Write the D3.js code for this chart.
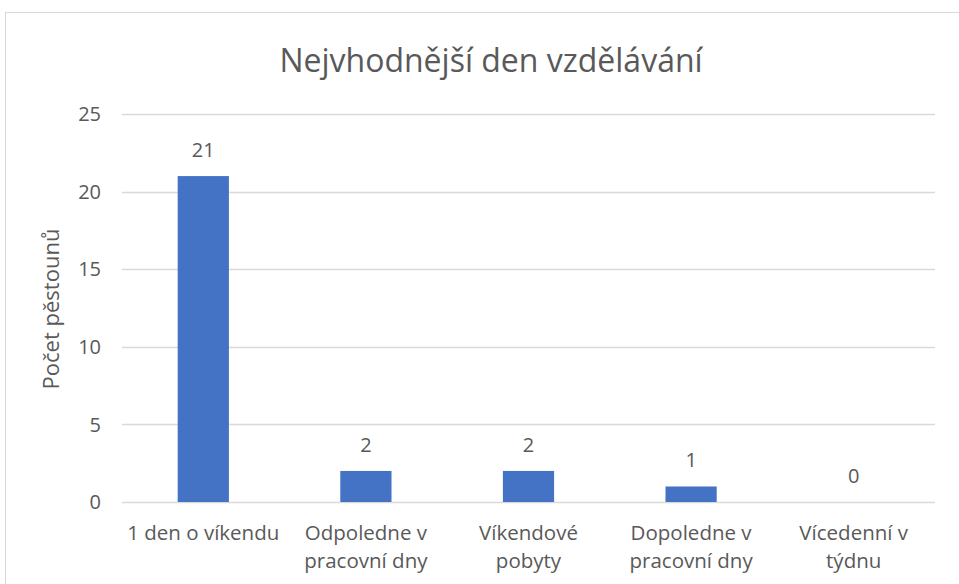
<!DOCTYPE html>
<html>
<head>
<meta charset="utf-8">
<script src="https://cdn.jsdelivr.net/npm/d3@7"></script>
<style>
  body { margin: 0; background: #fff; }
  text { font-family: "Open Sans", sans-serif; fill: #595959; }
</style>
</head>
<body>
<div id="chart"></div>
<script>
const title = "Nejvhodnější den vzdělávání";
const yTitle = "Počet pěstounů";
const categories = [
  "1 den o víkendu",
  "Odpoledne v\npracovní dny",
  "Víkendové\npobyty",
  "Dopoledne v\npracovní dny",
  "Vícedenní v\ntýdnu",
];
const values = [21, 2, 2, 1, 0];
const yTicks = [0, 5, 10, 15, 20, 25];

const W = 959, H = 584;
const PLOT = { LEFT: 122, RIGHT: 935, TOP: 114, BOTTOM: 502 };

const svg = d3.select("#chart").append("svg")
  .attr("width", W)
  .attr("height", H);

// chart area frame
svg.append("rect")
  .attr("x", 5.5).attr("y", 12.5)
  .attr("width", W).attr("height", H)
  .attr("fill", "#fff")
  .attr("stroke", "#d9d9d9");

const x = d3.scaleBand()
  .domain(categories)
  .range([PLOT.LEFT, PLOT.RIGHT]);

const y = d3.scaleLinear()
  .domain([0, 25])
  .range([PLOT.BOTTOM, PLOT.TOP]);

const barW = x.bandwidth() * 0.315;

// gridlines
svg.append("g")
  .selectAll("line")
  .data(yTicks)
  .join("line")
  .attr("x1", PLOT.LEFT).attr("x2", PLOT.RIGHT)
  .attr("y1", d => Math.round(y(d)) + 0.5)
  .attr("y2", d => Math.round(y(d)) + 0.5)
  .attr("stroke", "#d9d9d9")
  .attr("stroke-width", 1.5);

// y tick labels
svg.append("g")
  .selectAll("text")
  .data(yTicks)
  .join("text")
  .attr("x", 101)
  .attr("y", d => y(d))
  .attr("dy", "0.36em")
  .attr("text-anchor", "end")
  .style("font-size", "20px")
  .text(d => d);

// bars
svg.append("g")
  .selectAll("rect")
  .data(values)
  .join("rect")
  .attr("x", (d, i) => x(categories[i]) + x.bandwidth() / 2 - barW / 2)
  .attr("y", d => y(d))
  .attr("width", barW)
  .attr("height", d => y(0) - y(d))
  .attr("fill", "#4472c4");

// data labels
svg.append("g")
  .selectAll("text")
  .data(values)
  .join("text")
  .attr("x", (d, i) => x(categories[i]) + x.bandwidth() / 2)
  .attr("y", d => y(d) - 19)
  .attr("text-anchor", "middle")
  .style("font-size", "20px")
  .text(d => d);

// category labels
const cat = svg.append("g")
  .selectAll("text")
  .data(categories)
  .join("text")
  .attr("x", d => x(d) + x.bandwidth() / 2)
  .attr("y", 540)
  .attr("text-anchor", "middle")
  .style("font-size", "20.5px");

cat.selectAll("tspan")
  .data(d => d.split("\n"))
  .join("tspan")
  .attr("x", function () { return d3.select(this.parentNode).attr("x"); })
  .attr("dy", (d, i) => i === 0 ? 0 : 28)
  .text(d => d);

// title
svg.append("text")
  .attr("x", 491)
  .attr("y", 72)
  .attr("text-anchor", "middle")
  .style("font-size", "32px")
  .text(title);

// y axis title
svg.append("text")
  .attr("transform", "translate(59, 309) rotate(-90)")
  .attr("text-anchor", "middle")
  .style("font-size", "22px")
  .text(yTitle);
</script>
</body>
</html>
